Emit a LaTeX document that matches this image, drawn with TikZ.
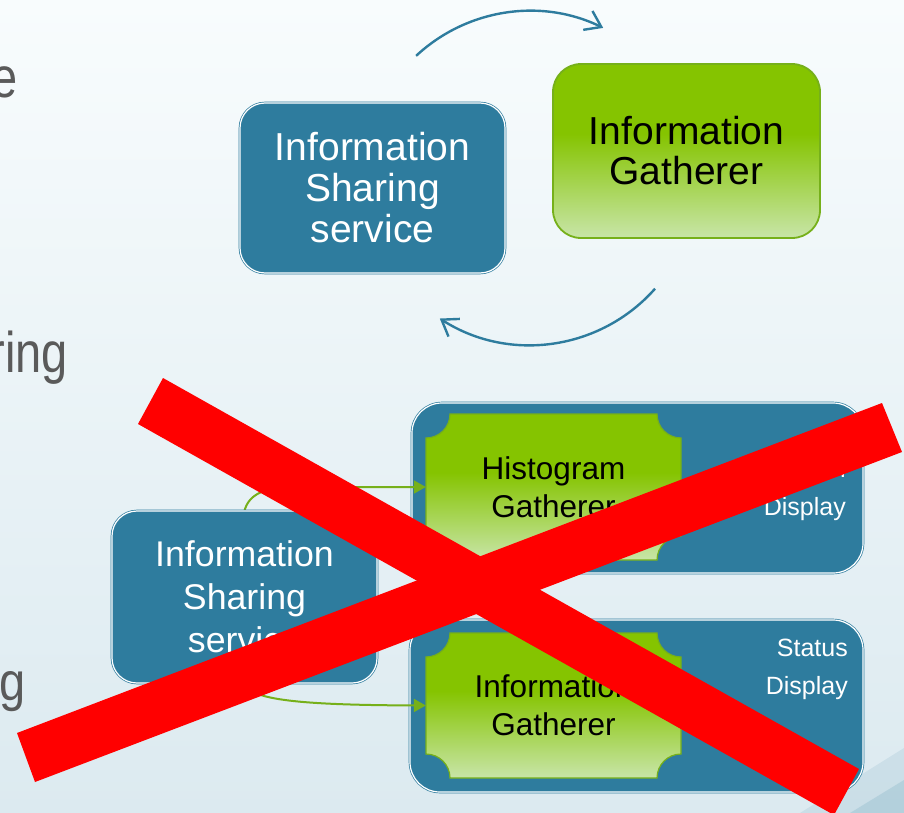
\documentclass[tikz,border=0pt]{standalone}
\usepackage{fontspec}
\setmainfont{Liberation Sans}
\usetikzlibrary{arrows.meta}
\definecolor{tealA}{HTML}{2E7C9E}
\definecolor{grnA}{HTML}{85C400}
\definecolor{grnL}{HTML}{C8E5A8}
\definecolor{grnB}{HTML}{76B01A}
\definecolor{bgTop}{HTML}{F8FCFD}
\definecolor{bgBot}{HTML}{DCEAF0}
\definecolor{grayTxt}{HTML}{5A5A5A}
\definecolor{redX}{HTML}{FF0000}
\pgfdeclareverticalshading{greengrad}{100bp}{color(0bp)=(grnL); color(25bp)=(grnL); color(55bp)=(grnA); color(100bp)=(grnA)}
\pgfdeclarelayer{bg}
\pgfdeclarelayer{cont}
\pgfdeclarelayer{conn}
\pgfsetlayers{bg,cont,conn,main}
\tikzset{
  tealbox/.style={rectangle, rounded corners=25pt, fill=tealA, draw=tealA, double=white,
    double distance=1.2pt, line width=0.7pt, text=white, align=center, inner sep=0pt},
  greenbox/.style={rectangle, rounded corners=28pt, shading=greengrad, draw=grnB,
    line width=1.8pt, text=black, align=center, inner sep=0pt},
  plaquetext/.style={rectangle, inner sep=0pt, align=center, text=black,
    minimum width=255pt, font=\fontsize{31.5}{38}\selectfont},
  plaque/.style={shading=greengrad, draw=grnB, line width=1.2pt},
  sidetext/.style={inner sep=0pt, align=right, text=white, font=\fontsize{25}{38}\selectfont},
  graytext/.style={inner sep=0pt, text=grayTxt, font=\fontsize{47}{49}\selectfont},
  cycarrow/.style={draw=tealA, line width=2.4pt, -{Straight Barb[length=15pt,width=21pt]}},
  gconn/.style={draw=grnB, line width=2pt, -{Triangle[length=12pt,width=13pt]}},
  redbar/.style={fill=redX}
}
\newcommand{\plaquepath}[5]{% x1 y1 x2 y2 r
  \path[plaque] (#1+#5,#2) -- (#3-#5,#2) arc[start angle=180,end angle=90,radius=#5]
    -- (#3,#4-#5) arc[start angle=270,end angle=180,radius=#5]
    -- (#1+#5,#4) arc[start angle=0,end angle=-90,radius=#5]
    -- (#1,#2+#5) arc[start angle=90,end angle=0,radius=#5] -- cycle;}
\begin{document}
\begin{tikzpicture}[x=1pt,y=-1pt]
\useasboundingbox (0,0) rectangle (904,813);
\begin{pgfonlayer}{bg}
  \fill[top color=bgTop, bottom color=bgBot] (0,0) rectangle (904,813);
  \fill[tealA, opacity=0.10] (800,813) -- (904,748) -- (904,813) -- cycle;
  \fill[tealA, opacity=0.14] (850,813) -- (904,780) -- (904,813) -- cycle;
\end{pgfonlayer}

% partial gray words at the left edge
\node[graytext, anchor=base east] (w1) at (18,98) {\scalebox{1}[1.22]{e}};
\node[graytext, anchor=base east] (w2) at (68,372) {\scalebox{1}[1.22]{ring}};
\node[graytext, anchor=base east] (w3) at (26,700) {\scalebox{1}[1.15]{g}};

% top cycle
\node[tealbox, minimum width=265pt, minimum height=170pt, font=\fontsize{39}{41}\selectfont]
  (iss1) at (372.5,188) {Information\\Sharing\\service};
\node[greenbox, minimum width=267pt, minimum height=174pt, font=\fontsize{39}{40}\selectfont]
  (ig1) at (686.5,151) {Information\\Gatherer};
\path (530,178) ++(-133:167) coordinate (a1s);
\path (530,178) ++(41.5:167) coordinate (a2s);
\draw[cycarrow] (a1s) arc[start angle=-133, end angle=-64, radius=167];
\draw[cycarrow] (a2s) arc[start angle=41.5, end angle=122.7, radius=167];

% lower diagram
\begin{pgfonlayer}{cont}
\node[tealbox, rounded corners=30pt, minimum width=451pt, minimum height=170pt] (box1) at (637.5,488) {};
\node[tealbox, rounded corners=30pt, minimum width=453pt, minimum height=172pt] (box2) at (636.5,706) {};
\end{pgfonlayer}
\plaquepath{426}{414}{681}{560}{24}
\plaquepath{426}{633}{681}{778}{24}
\node[plaquetext, minimum height=146pt] (hg) at (553.5,487) {Histogram\\Gatherer};
\node[plaquetext, minimum height=145pt] (ig2) at (553.5,705.5) {Information\\Gatherer};
\node[sidetext, anchor=east] (hd) at (846,490.5) {Histogram\\Display};
\node[sidetext, anchor=east] (sd) at (848,669.5) {Status\\Display};

\node[tealbox, minimum width=265pt, minimum height=172pt, font=\fontsize{35.7}{43}\selectfont]
  (iss2) at (244.5,597) {Information\\Sharing\\service};
\begin{pgfonlayer}{conn}
  \draw[gconn] (iss2.north) .. controls (249,494) and (265,487) .. (295,487) -- (hg.west);
  \draw[gconn] (iss2.south) .. controls (250,700) and (300,705) .. (ig2.west);
\end{pgfonlayer}

% red cross
\fill[redbar] (163,378) -- (859,769) -- (834,815) -- (138,424) -- cycle;
\fill[redbar] (17,733) -- (882,403) -- (902,452) -- (35,782) -- cycle;
\end{tikzpicture}
\end{document}
